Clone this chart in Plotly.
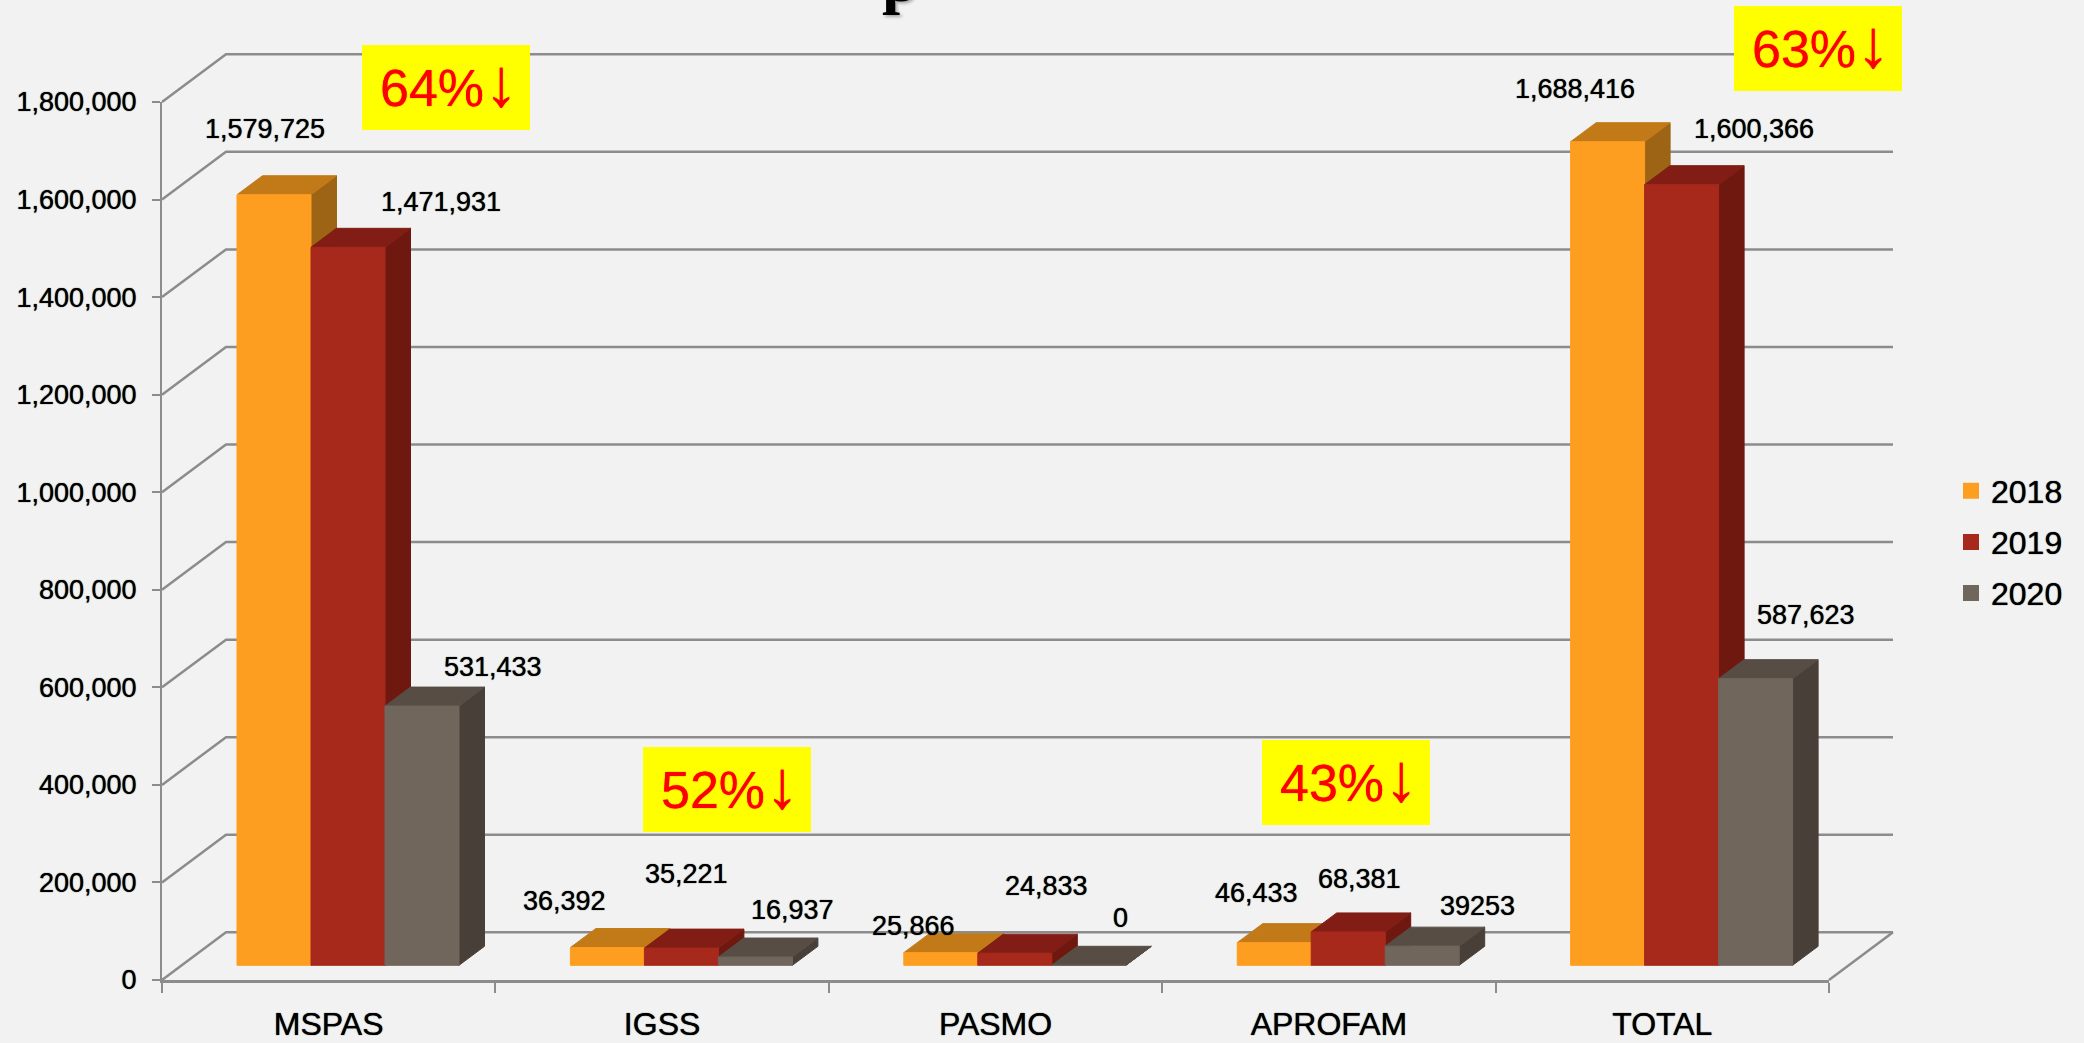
import plotly.graph_objects as go

# ---------- data ----------
categories = ["MSPAS", "IGSS", "PASMO", "APROFAM", "TOTAL"]
series_names = ["2018", "2019", "2020"]
values_2018 = [1579725, 36392, 25866, 46433, 1688416]
values_2019 = [1471931, 35221, 24833, 68381, 1600366]
values_2020 = [531433, 16937, 0, 39253, 587623]
labels_2018 = ["1,579,725", "36,392", "25,866", "46,433", "1,688,416"]
labels_2019 = ["1,471,931", "35,221", "24,833", "68,381", "1,600,366"]
labels_2020 = ["531,433", "16,937", "0", "39253", "587,623"]
y_ticks = [0, 200000, 400000, 600000, 800000, 1000000, 1200000, 1400000, 1600000, 1800000]
y_tick_text = ["0", "200,000", "400,000", "600,000", "800,000", "1,000,000",
               "1,200,000", "1,400,000", "1,600,000", "1,800,000"]
pct_text = ["64%", "52%", "43%", "63%"]

# ---------- page / projection geometry ----------
W, H = 2084, 1043
ML, MR, MT, MB = 162, 255, 102, 63
X_MAX, Y_MAX = 5, 1800000
PX_PER_X = (W - ML - MR) / X_MAX
PX_PER_Y = (H - MT - MB) / Y_MAX


def xpx(p):
    return (p - ML) / PX_PER_X


def ypx(p):
    return (H - MB - p) / PX_PER_Y


WALL_DX, WALL_DY = 64 / PX_PER_X, 47.7 / PX_PER_Y
BAR_W = 74 / PX_PER_X
BAR_START = 75 / PX_PER_X
FLOOR_DY = 14.7 / PX_PER_Y
BAR_DX, BAR_DY = 25.5 / PX_PER_X, 19 / PX_PER_Y

GRID = "#8C8C8C"
front_colors = ["#FE9E20", "#A7291B", "#70665B"]
top_colors = ["#C17A17", "#811D14", "#574D45"]
side_colors = ["#9C6414", "#6E1810", "#483F38"]
FONT = "Liberation Sans"
HEAVY = "0 0 1px #000000"

fig = go.Figure()


def polys(shapes, color, width=1, close=True):
    xs, ys = [], []
    for shape in shapes:
        pts = shape + [shape[0]] if close else shape
        xs += [p[0] for p in pts] + [None]
        ys += [p[1] for p in pts] + [None]
    fig.add_trace(go.Scatter(
        x=xs, y=ys, xaxis="x2", yaxis="y2", mode="lines", showlegend=False, hoverinfo="skip",
        fill="toself" if close else None, fillcolor=color if close else None,
        line=dict(color=color, width=width)))


# walls: back-wall gridlines, side-wall diagonals and floor edge
wall = []
for v in y_ticks:
    wall.append([(0, v), (WALL_DX, v + WALL_DY), (X_MAX + WALL_DX, v + WALL_DY)])
wall.append([(X_MAX, 0), (X_MAX + WALL_DX, WALL_DY)])
polys(wall, GRID, width=2.5, close=False)

# bars, painted back to front
all_values = [values_2018, values_2019, values_2020]
for s, vals in enumerate(all_values):
    fronts, tops, sides = [], [], []
    for i, v in enumerate(vals):
        x0 = i + BAR_START + s * BAR_W
        x1 = x0 + BAR_W
        y0 = FLOOR_DY
        y1 = FLOOR_DY + v
        fronts.append([(x0, y0), (x1, y0), (x1, y1), (x0, y1)])
        tops.append([(x0, y1), (x1, y1), (x1 + BAR_DX, y1 + BAR_DY), (x0 + BAR_DX, y1 + BAR_DY)])
        sides.append([(x1, y0), (x1 + BAR_DX, y0 + BAR_DY), (x1 + BAR_DX, y1 + BAR_DY), (x1, y1)])
    polys(sides, side_colors[s])
    polys(tops, top_colors[s])
    polys(fronts, front_colors[s])

# legend entries (these also anchor the visible axes)
for s, name in enumerate(series_names):
    fig.add_trace(go.Scatter(
        x=[None], y=[None], mode="markers", name=name, legendgroup=name,
        marker=dict(symbol="square", size=17, color=front_colors[s])))

# data labels (label centres, in page pixels)
label_x_px = [[265, 564, 913, 1256, 1575], [441, 686, 1046, 1359, 1754], [493, 792, 1120, 1477, 1806]]
label_y_px = [[129, 901, 926, 893, 89], [202, 874, 886, 879, 129], [667, 910, 918, 906, 615]]
annotations = []
for s, labs in enumerate([labels_2018, labels_2019, labels_2020]):
    for i, t in enumerate(labs):
        annotations.append(dict(
            x=xpx(label_x_px[s][i]), y=ypx(label_y_px[s][i]), xref="x2", yref="y2", text=t,
            showarrow=False, font=dict(family=FONT, size=27, color="black", shadow=HEAVY),
            xanchor="center", yanchor="middle"))

# yellow percentage boxes (left, top, right, bottom in page pixels)
boxes = [(362, 45, 530, 130), (643, 747, 811, 832), (1262, 740, 1430, 825), (1734, 6, 1902, 91)]
shapes = []
for t, (l, tp, r, b) in zip(pct_text, boxes):
    shapes.append(dict(type="rect", xref="x2", yref="y2", layer="above",
                       x0=xpx(l), x1=xpx(r), y0=ypx(b), y1=ypx(tp),
                       fillcolor="#FFFF00", line=dict(width=0)))
    annotations.append(dict(
        x=xpx((l + r) / 2), y=ypx((tp + b) / 2), xref="x2", yref="y2",
        text=t + "<span style='font-size:68px'>↓</span>", xshift=3, yshift=6,
        showarrow=False, font=dict(family=FONT, size=52, color="#FF0000", shadow="0 0 1px #FF0000"),
        xanchor="center", yanchor="middle"))

# clipped title fragment at the very top of the page
annotations.append(dict(
    x=xpx(900), y=ypx(17), xref="x2", yref="y2", text="<b>p</b>", showarrow=False,
    font=dict(family="Liberation Serif", size=65, color="black", shadow="2px 2px 3px #AAAAAA"),
    xanchor="center", yanchor="bottom"))

fig.update_layout(
    width=W, height=H, margin=dict(l=0, r=0, t=0, b=0, autoexpand=False),
    paper_bgcolor="#F2F2F2", plot_bgcolor="rgba(0,0,0,0)",
    font=dict(family=FONT, color="black"),
    annotations=annotations, shapes=shapes,
    legend=dict(x=1951 / W, y=(H - 542) / H, xanchor="left", yanchor="middle",
                font=dict(family=FONT, size=32, color="black", shadow=HEAVY), tracegroupgap=6.5,
                bgcolor="rgba(0,0,0,0)", itemsizing="trace"),
    xaxis=dict(domain=[ML / W, 1 - MR / W], range=[0, X_MAX], tickmode="array",
               tickvals=[i + 0.5 for i in range(len(categories))], ticktext=categories,
               ticks="", showgrid=False, zeroline=False, showline=True, linecolor=GRID, linewidth=2.5,
               ticklabelstandoff=14, tickfont=dict(family=FONT, size=32, color="black", shadow=HEAVY),
               minor=dict(ticks="outside", dtick=1, tick0=0, ticklen=10, tickwidth=2, tickcolor=GRID,
                          showgrid=False)),
    yaxis=dict(domain=[MB / H, 1 - MT / H], range=[0, Y_MAX], tickmode="array", tickvals=y_ticks,
               ticktext=y_tick_text, ticks="outside", ticklen=8, tickwidth=2, tickcolor=GRID,
               showgrid=False, zeroline=False, showline=True, linecolor=GRID, linewidth=2,
               ticklabelstandoff=10, tickfont=dict(family=FONT, size=27, color="black", shadow=HEAVY)),
    # full-page drawing axes sharing the same data scale as the visible axes
    xaxis2=dict(domain=[0, 1], range=[xpx(0), xpx(W)], anchor="y2", visible=False),
    yaxis2=dict(domain=[0, 1], range=[ypx(H), ypx(0)], anchor="x2", visible=False),
)

fig.write_html("out.html", config={"displayModeBar": False},
               post_script="document.body.style.margin='0';document.body.style.overflow='hidden';")
